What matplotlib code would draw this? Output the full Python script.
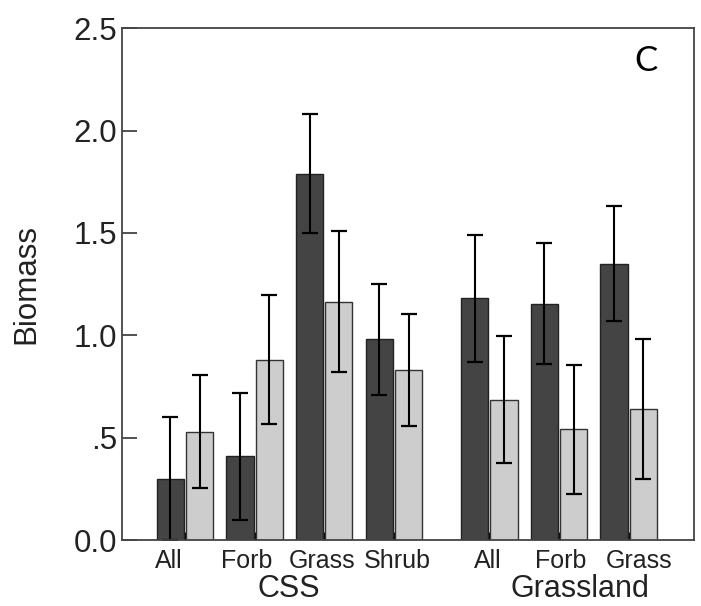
import numpy as np
import matplotlib
matplotlib.use("Agg")
import matplotlib.pyplot as plt

# Biomass by functional group, CSS vs Grassland sites
categories = ["All", "Forb", "Grass", "Shrub", "All", "Forb", "Grass"]
groups = ["CSS", "Grassland"]
group_sizes = [4, 3]

dark_vals = [0.30, 0.41, 1.79, 0.98, 1.18, 1.155, 1.35]
dark_err = [0.30, 0.31, 0.29, 0.27, 0.31, 0.295, 0.28]
light_vals = [0.53, 0.88, 1.165, 0.83, 0.685, 0.54, 0.64]
light_err = [0.275, 0.315, 0.345, 0.275, 0.31, 0.315, 0.34]

yticks = [0.0, 0.5, 1.0, 1.5, 2.0, 2.5]
ytick_labels = ["0.0", ".5", "1.0", "1.5", "2.0", "2.5"]

# layout
group_gap = 0.37
bar_w = 0.39
offset = 0.21
label_nudge = [-0.23, -0.11, -0.03, 0.05, -0.03, 0.02, 0.15]

x = np.arange(len(categories), dtype=float)
x[group_sizes[0]:] += group_gap

text_col = "#222222"
helv = ["Liberation Sans", "DejaVu Sans"]

fig = plt.figure(figsize=(7.01, 6.06), dpi=100)
ax = fig.add_axes([121.5 / 701, 1 - 540 / 606, (693.5 - 121.5) / 701, (540 - 28.3) / 606])

err_kw = dict(ecolor="black", elinewidth=1.5, capsize=5.5, capthick=1.6)
ax.bar(x - offset, dark_vals, bar_w, color="#444444", edgecolor="#222222",
       linewidth=1.0, yerr=dark_err, error_kw=err_kw, zorder=2)
ax.bar(x + offset, light_vals, bar_w, color="#cdcdcd", edgecolor="#333333",
       linewidth=1.0, yerr=light_err, error_kw=err_kw, zorder=2)

ax.set_xlim(-0.91, 7.30)
ax.set_ylim(0, 2.5)

ax.set_yticks(yticks)
ax.set_yticklabels(ytick_labels, family=helv, fontsize=22.5, color=text_col)
ax.tick_params(axis="y", direction="in", length=11, width=1.2, color="#333333", pad=3)

ax.set_xticks(x)
ax.set_xticklabels([])
ax.tick_params(axis="x", direction="in", length=6, width=2.0, color="black")
for xi, lab, nd in zip(x, categories, label_nudge):
    ax.text(xi + nd, -0.018, lab, transform=ax.get_xaxis_transform(),
            ha="center", va="top", family=helv, fontsize=18, color=text_col)

# group labels below the tick labels
css_center = x[:group_sizes[0]].mean() - 0.01
grass_center = x[group_sizes[0]:].mean() + 0.30
for gx, g in zip([css_center, grass_center], groups):
    ax.text(gx, -0.112, g, transform=ax.get_xaxis_transform(),
            ha="center", va="baseline", family=helv, fontsize=22, color=text_col)

ax.set_ylabel("Biomass", family=helv, fontsize=22.5, color=text_col)
ax.yaxis.set_label_coords(-0.14, 0.5)

for sp in ax.spines.values():
    sp.set_color("#444444")
    sp.set_linewidth(1.3)

ax.text(0.917, 0.937, "C", transform=ax.transAxes, ha="center", va="center",
        family=["Lato", "DejaVu Sans"], fontsize=25, color="black")

fig.savefig("out.png", dpi=100)
